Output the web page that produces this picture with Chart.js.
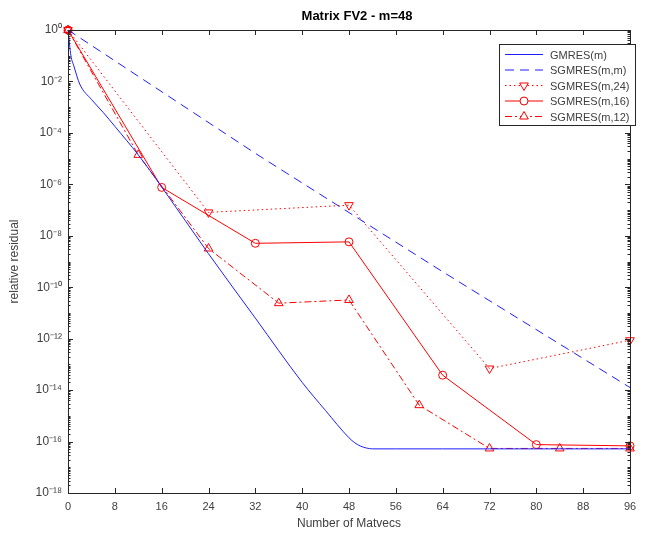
<!DOCTYPE html>
<html>
<head>
<meta charset="utf-8">
<script src="https://cdn.jsdelivr.net/npm/chart.js@4.4.0/dist/chart.umd.min.js"></script>
<style>
  body { margin: 0; background: #fff; }
  canvas { display: block; }
</style>
</head>
<body>
<canvas id="myChart" width="645" height="533"></canvas>
<script>
// values (relative residual vs matvecs)
const gmresX = [0, 0.5, 1, 2, 4, 6, 8, 12, 16, 24, 32, 40, 44, 48, 49, 50, 51, 52, 56, 64, 72, 80, 88, 96];
const gmresY = [1, 1e-1, 4.0e-2, 7.9e-3, 2.0e-3, 6.3e-4, 1.8e-4, 1.4e-5, 7.9e-7, 2.0e-9, 6.3e-12, 2.0e-14, 1.6e-15,
                1.4e-16, 8.9e-17, 6.6e-17, 5.6e-17, 5.2e-17, 5.2e-17, 5.2e-17, 5.2e-17, 5.2e-17, 5.2e-17, 5.2e-17];

const sgmresMMX = [0, 32, 64, 96];
const sgmresMMY = [1, 1.6e-5, 4.0e-10, 1.26e-14];

const sgmres24X = [0, 24, 48, 72, 96];
const sgmres24Y = [1, 8.1e-8, 1.55e-7, 6.9e-14, 8.7e-13];

const sgmres16X = [0, 16, 32, 48, 64, 80, 96];
const sgmres16Y = [1, 7.6e-7, 5.1e-9, 5.8e-9, 3.8e-14, 7.6e-17, 6.8e-17];

const sgmres12X = [0, 12, 24, 36, 48, 60, 72, 84, 96];
const sgmres12Y = [1, 1.4e-5, 3.2e-9, 2.4e-11, 3.2e-11, 2.6e-15, 5.4e-17, 5.4e-17, 5.4e-17];

const xTicks = [0, 8, 16, 24, 32, 40, 48, 56, 64, 72, 80, 88, 96];
const yExponents = [0, -2, -4, -6, -8, -10, -12, -14, -16, -18];

const FONT = '"Liberation Sans", Arial, Helvetica, sans-serif';
const AXIS_COLOR = '#262626';
const LABEL_COLOR = '#404040';
const BLUE = 'rgb(30,30,255)';
const RED = 'rgb(255,0,0)';

function pairs(xs, ys) {
    return xs.map((x, i) => ({ x: x, y: ys[i] }));
}

const SUP = { '-': '\u207B', '0': '\u2070', '1': '\u00B9', '2': '\u00B2', '3': '\u00B3', '4': '\u2074',
              '5': '\u2075', '6': '\u2076', '7': '\u2077', '8': '\u2078', '9': '\u2079' };
function powLabel(e) {
    return '10' + String(e).split('').map(c => SUP[c]).join('');
}

// box, inward ticks, title and legend in the matlab look
const matlabFrame = {
    id: 'matlabFrame',
    afterDraw(chart) {
        const ctx = chart.ctx;
        const a = chart.chartArea;
        const xs = chart.scales.x;
        const ys = chart.scales.y;
        ctx.save();
        ctx.strokeStyle = AXIS_COLOR;
        ctx.lineWidth = 1;
        ctx.setLineDash([]);
        ctx.strokeRect(a.left + 0.5, a.top + 0.5, a.right - a.left, a.bottom - a.top);

        ctx.beginPath();
        xTicks.forEach(v => {
            const px = Math.round(xs.getPixelForValue(v)) + 0.5;
            ctx.moveTo(px, a.bottom); ctx.lineTo(px, a.bottom - 5);
            ctx.moveTo(px, a.top); ctx.lineTo(px, a.top + 5);
        });
        for (let e = -18; e <= 0; e++) {
            for (let k = 1; k <= 9; k++) {
                const v = k * Math.pow(10, e);
                if (v > 1) break;
                const py = Math.round(ys.getPixelForValue(v)) + 0.5;
                const len = (k === 1 && e % 2 === 0) ? 5 : 2.5;
                ctx.moveTo(a.left, py); ctx.lineTo(a.left + len, py);
                ctx.moveTo(a.right, py); ctx.lineTo(a.right - len, py);
            }
        }
        ctx.stroke();

        // title
        ctx.fillStyle = '#000';
        ctx.font = 'bold 13px ' + FONT;
        ctx.textAlign = 'center';
        ctx.textBaseline = 'middle';
        ctx.fillText('Matrix FV2 - m=48', 357, 16);

        // legend
        const lx = 499, ly = 44, lw = 136, lh = 81;
        ctx.fillStyle = '#fff';
        ctx.fillRect(lx, ly, lw, lh);
        ctx.strokeStyle = AXIS_COLOR;
        ctx.strokeRect(lx + 0.5, ly + 0.5, lw, lh);
        ctx.font = '11px ' + FONT;
        ctx.textAlign = 'left';
        chart.data.datasets.forEach((ds, i) => {
            const y = ly + 10.5 + i * 15.5;
            ctx.strokeStyle = ds.borderColor;
            ctx.lineWidth = ds.borderWidth;
            ctx.setLineDash(ds.borderDash || []);
            ctx.beginPath();
            ctx.moveTo(505, y); ctx.lineTo(543, y);
            ctx.stroke();
            ctx.setLineDash([]);
            if (ds.pointRadius > 0) {
                ctx.fillStyle = '#fff';
                ctx.strokeStyle = ds.borderColor;
                Chart.helpers.drawPoint(ctx, {
                    pointStyle: ds.pointStyle,
                    rotation: ds.pointRotation || 0,
                    radius: ds.pointRadius,
                    borderWidth: 1
                }, 524, y);
            }
            ctx.fillStyle = LABEL_COLOR;
            ctx.fillText(ds.label, 550, y + 1);
        });
        ctx.restore();
    }
};

const ctx = document.getElementById('myChart').getContext('2d');
const myChart = new Chart(ctx, {
    type: 'line',
    data: {
        datasets: [{
            label: 'GMRES(m)',
            data: pairs(gmresX, gmresY),
            borderColor: BLUE,
            borderWidth: 1,
            pointRadius: 0,
            cubicInterpolationMode: 'monotone'
        }, {
            label: 'SGMRES(m,m)',
            data: pairs(sgmresMMX, sgmresMMY),
            borderColor: BLUE,
            borderWidth: 1,
            borderDash: [9, 6],
            pointRadius: 0
        }, {
            label: 'SGMRES(m,24)',
            data: pairs(sgmres24X, sgmres24Y),
            borderColor: RED,
            borderWidth: 1,
            borderDash: [1.5, 3],
            pointStyle: 'triangle',
            pointRotation: 180,
            pointRadius: 5
        }, {
            label: 'SGMRES(m,16)',
            data: pairs(sgmres16X, sgmres16Y),
            borderColor: RED,
            borderWidth: 1,
            pointStyle: 'circle',
            pointRadius: 4
        }, {
            label: 'SGMRES(m,12)',
            data: pairs(sgmres12X, sgmres12Y),
            borderColor: RED,
            borderWidth: 1,
            borderDash: [7, 3, 2, 3],
            pointStyle: 'triangle',
            pointRadius: 5
        }]
    },
    options: {
        responsive: false,
        animation: false,
        devicePixelRatio: 1,
        layout: { padding: { top: 30, right: 15, left: 7, bottom: 2 } },
        datasets: {
            line: {
                clip: false,
                fill: false,
                tension: 0,
                pointBackgroundColor: 'rgba(0,0,0,0)',
                pointBorderColor: RED,
                pointBorderWidth: 1
            }
        },
        plugins: {
            legend: { display: false },
            title: { display: false },
            tooltip: { enabled: false }
        },
        scales: {
            x: {
                type: 'linear',
                min: 0,
                max: 96,
                grid: { display: false, drawTicks: false },
                border: { display: false },
                afterBuildTicks: s => { s.ticks = xTicks.map(v => ({ value: v })); },
                afterFit: s => { s.height = 38; },
                ticks: {
                    color: LABEL_COLOR,
                    font: { family: FONT, size: 11 },
                    padding: 7,
                    maxRotation: 0
                },
                title: {
                    display: true,
                    text: 'Number of Matvecs',
                    color: LABEL_COLOR,
                    font: { family: FONT, size: 12 },
                    padding: { top: 0, bottom: 0 }
                }
            },
            y: {
                type: 'logarithmic',
                min: 1e-18,
                max: 1,
                grid: { display: false, drawTicks: false },
                border: { display: false },
                afterBuildTicks: s => { s.ticks = yExponents.map(e => ({ value: Math.pow(10, e) })); },
                afterFit: s => { s.width = 61; },
                ticks: {
                    color: LABEL_COLOR,
                    font: { family: FONT, size: 12 },
                    padding: 6,
                    callback: function (value) {
                        return powLabel(Math.round(Math.log10(value)));
                    }
                },
                title: {
                    display: true,
                    text: 'relative residual',
                    color: LABEL_COLOR,
                    font: { family: FONT, size: 12 },
                    padding: { top: 0, bottom: 0 }
                }
            }
        }
    },
    plugins: [matlabFrame]
});
</script>
</body>
</html>
